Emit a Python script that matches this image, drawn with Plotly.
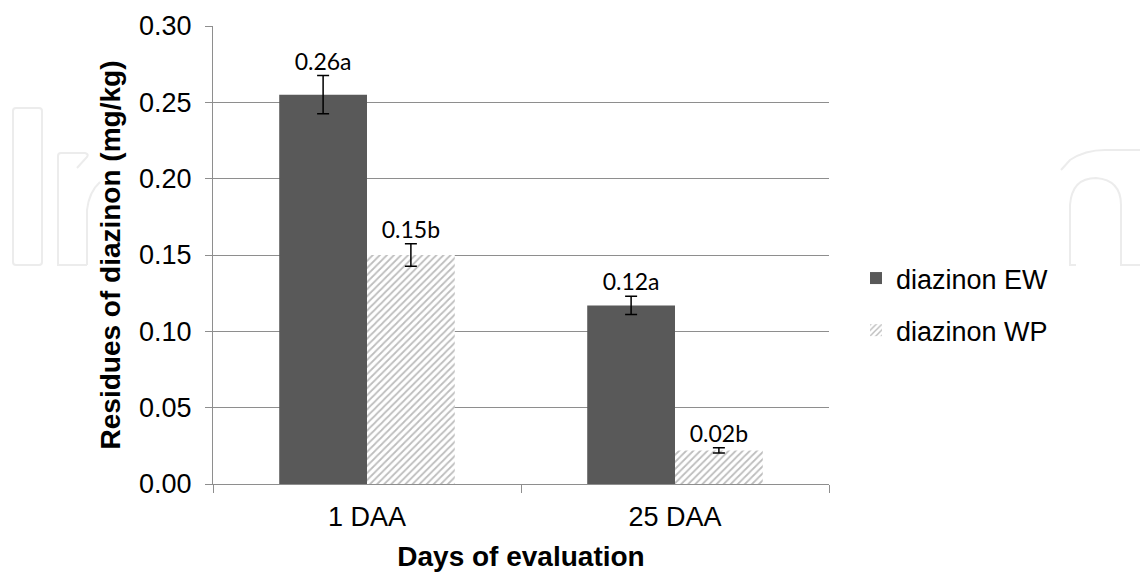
import plotly.graph_objects as go

# Residues of diazinon per formulation and evaluation day
days = ["1 DAA", "25 DAA"]
ew_values = [0.255, 0.117]
ew_errors = [0.0125, 0.006]
ew_letters = ["a", "a"]
wp_values = [0.150, 0.022]
wp_errors = [0.0074, 0.0017]
wp_letters = ["b", "b"]
y_ticks = [0.00, 0.05, 0.10, 0.15, 0.20, 0.25, 0.30]

W, H = 1140, 572
M_L, M_R, M_T, M_B = 213, 311, 26, 88
AXIS_FONT = "Liberation Sans, Arial, sans-serif"
LABEL_FONT = "Lato, Carlito, sans-serif"
GRID = "#8e8e8e"

fig = go.Figure()

fig.add_trace(go.Bar(
    name="diazinon EW", x=days, y=ew_values,
    marker=dict(color="#595959", line=dict(width=0)),
    error_y=dict(type="data", array=ew_errors, color="black", thickness=1.5, width=6),
    legendgroup="ew", hoverinfo="skip",
))
fig.add_trace(go.Bar(
    name="diazinon WP", x=days, y=wp_values,
    marker=dict(color="white", line=dict(width=0),
                pattern=dict(shape="/", fgcolor="#7c7c7c", bgcolor="white",
                             size=5, solidity=0.35)),
    error_y=dict(type="data", array=wp_errors, color="black", thickness=1.5, width=6),
    legendgroup="wp", hoverinfo="skip",
))

# value + significance letter above each error bar
for vals, errs, letters in [(ew_values, ew_errors, ew_letters),
                            (wp_values, wp_errors, wp_letters)]:
    fig.add_trace(go.Scatter(
        x=days, y=[v + e for v, e in zip(vals, errs)], mode="text",
        text=[f"{v:.2f}{l}" for v, l in zip(vals, letters)],
        textposition="top center",
        textfont=dict(family=LABEL_FONT, size=23, color="black"),
        showlegend=False, hoverinfo="skip", cliponaxis=False,
    ))


def px(x, y):
    """Pixel position on the page -> paper coordinates."""
    pw = W - M_L - M_R
    ph = H - M_T - M_B
    return (x - M_L) / pw, (H - M_B - y) / ph


def path(points, cmds):
    out = []
    i = 0
    for c in cmds:
        if c in "ML":
            x, y = px(*points[i]); i += 1
            out.append(f"{c}{x:.5f},{y:.5f}")
        elif c == "Q":
            x1, y1 = px(*points[i]); x2, y2 = px(*points[i + 1]); i += 2
            out.append(f"Q{x1:.5f},{y1:.5f} {x2:.5f},{y2:.5f}")
    return " ".join(out)


# faint outline logo behind the chart area
logo = [
    path([(16, 108), (39, 108), (42, 108), (42, 111), (42, 262), (42, 265), (39, 265),
          (16, 265), (13, 265), (13, 262), (13, 111), (13, 108), (16, 108)],
         ["M", "L", "Q", "L", "Q", "L", "Q", "L", "Q"]),
    path([(87, 265), (58, 265), (58, 156), (58, 153), (61, 153), (85, 153),
          (89, 154), (87, 157), (77, 168)],
         ["M", "L", "L", "Q", "L", "Q", "L"]),
    path([(87, 265), (87, 210), (89, 192), (100, 182)], ["M", "L", "Q"]),
    path([(1061, 170), (1070, 160), (1085, 150), (1105, 150), (1140, 150)],
         ["M", "L", "Q", "L"]),
    path([(1076, 265), (1070, 265), (1070, 205), (1072, 178), (1096, 178),
          (1121, 180), (1121, 205), (1121, 265), (1140, 265)],
         ["M", "L", "L", "Q", "Q", "L", "L"]),
]
for p in logo:
    fig.add_shape(type="path", path=p, xref="paper", yref="paper",
                  line=dict(color="#ececec", width=2), layer="below")

fig.update_layout(
    width=W, height=H,
    margin=dict(l=M_L, r=M_R, t=M_T, b=M_B, autoexpand=False),
    paper_bgcolor="white", plot_bgcolor="white",
    barmode="group", bargap=0.43, bargroupgap=0,
    scattermode="group", scattergap=0.43,
    showlegend=True,
    legend=dict(x=(856 - M_L) / (W - M_L - M_R), xanchor="left",
                y=(H - M_B - 254) / (H - M_T - M_B), yanchor="top",
                font=dict(family=AXIS_FONT, size=27, color="black"),
                tracegroupgap=14, itemclick=False, bgcolor="rgba(0,0,0,0)"),
    font=dict(family=AXIS_FONT, color="black"),
)

fig.update_xaxes(
    type="category", showline=True, linecolor=GRID, linewidth=1.3,
    ticks="outside", tickson="boundaries", ticklen=8, tickcolor=GRID, tickwidth=1.3,
    tickfont=dict(family=AXIS_FONT, size=27, color="black"),
    ticklabelstandoff=8, showgrid=False,
    title=dict(text="Days of evaluation", standoff=17,
               font=dict(family=AXIS_FONT, size=28, color="black", weight="bold")),
)
fig.update_yaxes(
    range=[0, 0.30], tickvals=y_ticks, tickformat=".2f",
    showline=True, linecolor=GRID, linewidth=1.3,
    ticks="outside", ticklen=7, tickcolor=GRID, tickwidth=1.3,
    showgrid=True, gridcolor=GRID, gridwidth=1.3, zeroline=False,
    tickfont=dict(family=AXIS_FONT, size=27, color="black"),
    ticklabelstandoff=8,
    title=dict(text="Residues of diazinon (mg/kg)", standoff=10,
               font=dict(family=AXIS_FONT, size=28, color="black", weight="bold")),
)

fig.write_html("out.html")
